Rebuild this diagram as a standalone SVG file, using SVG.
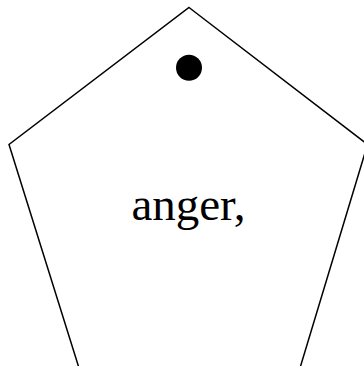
<svg xmlns="http://www.w3.org/2000/svg" width="364" height="366" viewBox="0 0 364 366">
<style>
.shape{fill:#ffffff;stroke:#000000;stroke-width:1.5}
.lbl{font-family:"Liberation Serif","Times New Roman",serif;font-size:47px;fill:#000000;text-anchor:middle}
</style>
<rect width="364" height="366" fill="#ffffff"/>
<g id="connectors"></g>
<g id="node-anger">
<polygon class="shape" points="189,7.5 367.5,144.5 300,368 79,368 9,144.5"/>
<circle cx="189" cy="67.7" r="13" fill="#000000"/>
<text class="lbl" x="188.5" y="220">anger,</text>
</g>
</svg>
